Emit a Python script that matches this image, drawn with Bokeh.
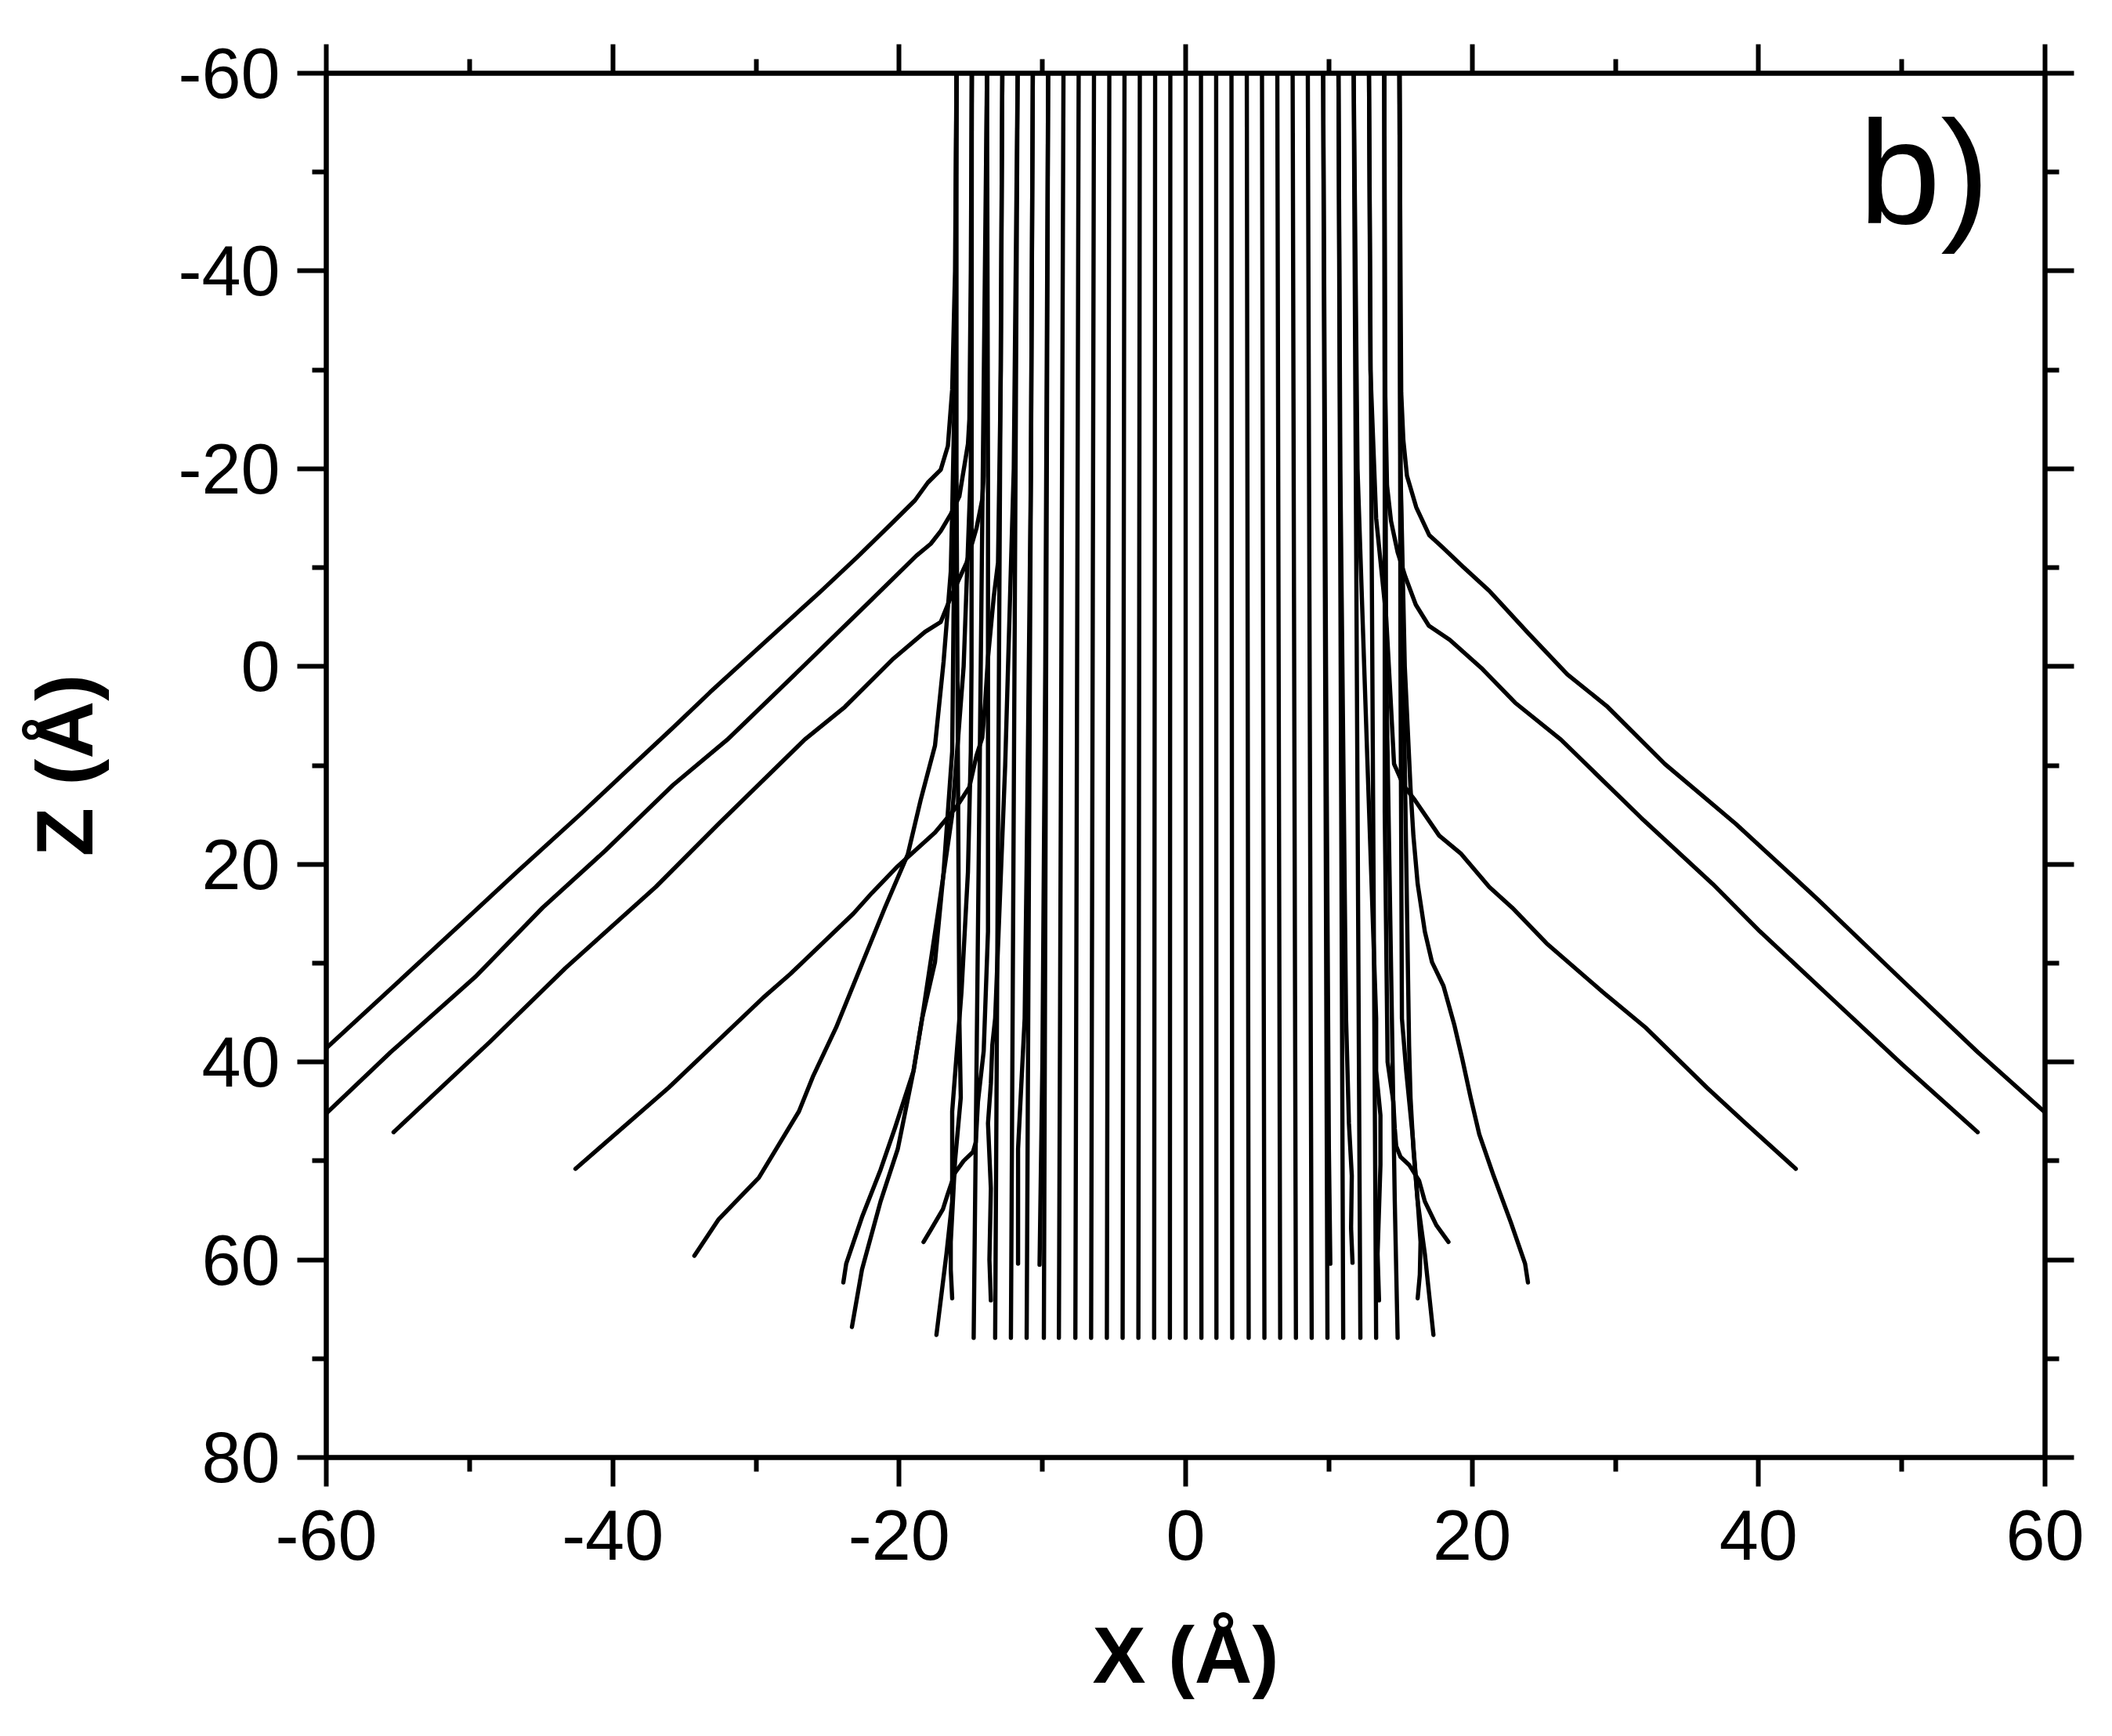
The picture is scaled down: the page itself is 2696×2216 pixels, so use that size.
from bokeh.plotting import figure
from bokeh.models import Range1d, LinearAxis, FixedTicker, Label, CustomJSTickFormatter
from bokeh.embed import file_html
from bokeh.resources import INLINE

# ---------------- data ----------------
x_ticks = [-60, -40, -20, 0, 20, 40, 60]
x_minor = [-50, -30, -10, 10, 30, 50]
z_ticks = [-60, -40, -20, 0, 20, 40, 60, 80]
z_minor = [-50, -30, -10, 10, 30, 50, 70]

z_entry = -60.0
z_exit = 67.9

# nearly straight trajectories: entry x (z=-60) -> exit x (z=67.9)
straight_x_entry = [-13.87, -12.8, -11.73, -10.67, -9.6, -8.53, -7.47, -6.4, -5.33,
                    -4.27, -3.2, -2.13, -1.07, 0.0, 1.07, 2.13, 3.2, 4.27, 5.33,
                    6.4, 7.47, 8.53, 9.6, 10.67, 11.73, 12.8]
straight_x_exit = [-14.8, -13.3, -12.2, -11.1, -9.9, -8.85, -7.7, -6.6, -5.5,
                   -4.4, -3.3, -2.2, -1.1, 0.0, 1.1, 2.15, 3.25, 4.4, 5.5,
                   6.6, 7.7, 8.8, 9.9, 11.0, 12.2, 13.3]

# deflected trajectories, (x, z) points
traj_L1 = [(-16.0, -60), (-16.1, -40), (-16.3, -28), (-16.6, -22.3), (-17.1, -19.9), (-18.0, -18.6),
           (-18.9, -16.8), (-20.5, -14.5), (-22.9, -11.1), (-25.4, -7.7), (-29.5, -2.3), (-33.2, 2.6),
           (-35.8, 6.2), (-39.2, 10.8), (-42.3, 15.0), (-46.7, 20.8), (-50.5, 25.9), (-54.6, 31.4),
           (-60.0, 38.6)]
traj_L2 = [(-14.93, -60), (-15.0, -40), (-15.1, -25), (-15.2, -22.5), (-15.8, -17.2), (-16.4, -15.4),
           (-17.1, -13.7), (-17.8, -12.4), (-18.8, -11.2), (-21.9, -6.8), (-27.0, 0.4), (-32.0, 7.4),
           (-35.8, 12.0), (-40.5, 18.6), (-44.9, 24.4), (-49.6, 31.4), (-55.5, 39.0), (-60.0, 45.2)]
traj_L3 = [(-13.87, -60), (-13.95, -40), (-14.1, -19.3), (-14.2, -16.9), (-14.6, -14.0), (-15.3, -10.5),
           (-16.4, -7.0), (-17.1, -4.5), (-18.2, -3.5), (-20.4, -0.8), (-23.8, 4.1), (-26.6, 7.4),
           (-32.6, 15.9), (-37.0, 22.3), (-43.3, 30.5), (-48.6, 38.0), (-55.3, 47.1)]
traj_L4 = [(-12.8, -60), (-12.9, -30), (-13.1, -10.5), (-13.4, -7.0), (-13.8, -0.9), (-14.0, 3.7),
           (-14.2, 7.2), (-14.6, 9.0), (-15.1, 12.2), (-16.0, 14.2), (-17.5, 16.8), (-20.1, 20.2),
           (-21.9, 22.9), (-23.2, 25.0), (-27.6, 31.1), (-29.5, 33.5), (-36.1, 42.6), (-42.6, 50.8)]
traj_L5 = [(-16.0, -60), (-16.1, -30), (-16.3, -15.6), (-16.4, -9.6), (-16.9, -0.5), (-17.5, 8.0),
           (-18.5, 13.5), (-19.4, 19.0), (-21.0, 24.4), (-22.55, 29.9), (-24.4, 36.5), (-26.0, 41.4),
           (-27.0, 45.0), (-29.8, 51.7), (-32.6, 55.9), (-34.3, 59.6)]
traj_L6 = [(-16.0, -60), (-16.1, -20), (-16.3, 8.6), (-16.9, 20.8), (-17.5, 29.9), (-18.4, 35.6),
           (-19.0, 40.9), (-20.3, 46.7), (-21.3, 50.9), (-22.6, 55.7), (-23.7, 60.4), (-23.9, 62.3)]
traj_L7 = [(-14.93, -60), (-15.0, -20), (-15.5, 0.0), (-16.3, 15.0), (-17.3, 25.0), (-18.4, 35.6),
           (-19.0, 40.9), (-20.1, 48.8), (-21.3, 54.1), (-22.6, 61.0), (-23.3, 66.8)]
traj_L8 = [(-13.87, -60), (-13.8, -20), (-13.8, 26.8), (-14.1, 38.9), (-14.5, 44.0), (-14.65, 48.1),
           (-14.85, 49.1), (-15.5, 50.0), (-16.1, 51.2), (-16.6, 53.3), (-16.95, 54.9), (-17.8, 57.0),
           (-18.3, 58.2)]
traj_L9 = [(-14.93, -60), (-14.95, 0.0), (-15.0, 8.6), (-15.2, 20.8), (-15.65, 32.9), (-16.3, 45.0),
           (-16.3, 54.1), (-16.7, 59.4), (-17.4, 67.6)]
traj_L10 = [(-16.0, -60), (-16.0, -20), (-15.9, 10.0), (-15.8, 35.6), (-15.7, 43.6), (-16.1, 50.0),
            (-16.4, 58.2), (-16.4, 61.0), (-16.3, 63.9)]
traj_L12 = [(-11.73, -60), (-12.0, -20), (-12.6, 10.0), (-13.3, 35.6), (-13.5, 38.3), (-13.6, 42.2),
            (-13.8, 46.2), (-13.6, 52.8), (-13.7, 60.0), (-13.6, 64.1)]
traj_L15 = [(-10.67, -60), (-10.8, -20), (-11.1, 20.0), (-11.24, 35.6), (-11.7, 48.8), (-11.7, 60.4)]
traj_L17 = [(-9.6, -60), (-9.8, 0.0), (-10.0, 40.0), (-10.2, 60.5)]

traj_RA = [(14.93, -60), (15.0, -40), (15.05, -27.7), (15.2, -22.9), (15.45, -19.3), (16.1, -16.1),
           (17.0, -13.3), (17.9, -12.1), (19.35, -10.1), (21.2, -7.65), (23.9, -3.4), (26.65, 0.8),
           (29.4, 4.0), (33.45, 9.85), (38.4, 15.9), (44.1, 23.5), (50.0, 31.7), (55.3, 39.0),
           (60.0, 45.1)]
traj_RB = [(13.87, -60), (13.9, -30), (14.06, -18.3), (14.34, -14.7), (14.8, -11.55), (15.34, -9.07),
           (16.07, -6.24), (16.98, -4.12), (18.44, -2.7), (20.63, 0.13), (23.0, 3.66), (26.2, 7.4),
           (31.8, 15.3), (36.8, 22.0), (40.1, 26.8), (45.05, 33.5), (50.0, 40.2), (55.3, 47.1)]
traj_RC = [(12.8, -60), (12.9, -30), (13.3, -15.0), (14.0, -5.0), (14.3, 3.0), (14.55, 9.85),
           (15.2, 12.0), (16.0, 13.5), (17.7, 17.1), (19.2, 18.9), (21.2, 22.3), (22.8, 24.4),
           (25.2, 28.0), (29.1, 32.9), (32.1, 36.5), (36.4, 42.6), (39.1, 46.2), (42.6, 50.8)]
traj_R6 = [(14.93, -60), (15.0, -20), (15.3, 0.0), (15.7, 12.3), (15.9, 17.1), (16.2, 22.0),
           (16.7, 26.8), (17.2, 29.9), (18.0, 32.3), (18.75, 36.2), (19.3, 39.6), (19.9, 43.6),
           (20.5, 47.3), (21.5, 51.5), (22.7, 56.2), (23.7, 60.4), (23.9, 62.3)]
traj_R8 = [(13.87, -60), (13.9, -20), (13.9, 14.7), (14.1, 40.0), (14.5, 44.0), (14.6, 46.7),
           (14.7, 48.5), (15.0, 49.6), (15.6, 50.4), (16.3, 52.0), (16.7, 54.1), (17.5, 56.5),
           (18.35, 58.2)]
traj_R9 = [(14.93, -60), (15.0, 0.0), (15.1, 35.6), (15.4, 40.9), (15.85, 47.5), (16.2, 54.1),
           (16.7, 59.4), (17.3, 67.6)]
traj_R10 = [(14.93, -60), (15.0, -20), (15.3, 10.0), (15.6, 38.3), (15.7, 43.6), (15.9, 48.8),
            (16.2, 54.1), (16.4, 58.2), (16.35, 61.5), (16.2, 63.9)]
traj_R11 = [(13.87, -60), (14.0, 0.0), (14.4, 35.6), (14.6, 54.0), (14.8, 67.9)]
traj_R12 = [(11.73, -60), (12.0, -20), (12.7, 10.0), (13.3, 35.6), (13.3, 40.9), (13.6, 45.4),
            (13.6, 50.4), (13.4, 59.4), (13.5, 64.1)]
traj_R15 = [(10.67, -60), (10.8, -20), (11.2, 35.6), (11.4, 46.2), (11.6, 51.5), (11.55, 56.8),
            (11.65, 60.3)]
traj_R17 = [(9.6, -60), (9.8, 0.0), (10.0, 48.8), (10.1, 60.4)]

curved = [traj_L1, traj_L2, traj_L3, traj_L4, traj_L5, traj_L6, traj_L7, traj_L8, traj_L9,
          traj_L10, traj_L12, traj_L15, traj_L17,
          traj_RA, traj_RB, traj_RC, traj_R6, traj_R8, traj_R9, traj_R10, traj_R11,
          traj_R12, traj_R15, traj_R17]

x_title = "X (Å)"
z_title = "Z (Å)"
panel_tag = "b)"

# ---------------- figure ----------------
p = figure(width=2680, height=2200,
           x_range=Range1d(-60, 60), y_range=Range1d(80, -60),
           output_backend="svg", toolbar_location=None,
           min_border_left=416, min_border_right=70, min_border_top=93, min_border_bottom=340,
           x_axis_label=x_title, y_axis_label=z_title)
p.background_fill_color = "white"
p.border_fill_color = "white"
p.xgrid.visible = False
p.ygrid.visible = False
p.outline_line_color = "black"
p.outline_line_width = 6

bottom_axis = p.below[0]
left_axis = p.left[0]

xs = [[a, b] for a, b in zip(straight_x_entry, straight_x_exit)]
ys = [[z_entry, z_exit] for _ in straight_x_entry]
for t in curved:
    xs.append([pt[0] for pt in t])
    ys.append([pt[1] for pt in t])

p.multi_line(xs, ys, line_color="black", line_width=5.4, line_join="round", line_cap="round")

top_axis = LinearAxis()
right_axis = LinearAxis()
p.add_layout(top_axis, "above")
p.add_layout(right_axis, "right")

for ax in [bottom_axis, top_axis]:
    ax.ticker = FixedTicker(ticks=x_ticks, minor_ticks=x_minor)
for ax in [left_axis, right_axis]:
    ax.ticker = FixedTicker(ticks=z_ticks, minor_ticks=z_minor)

for ax in [bottom_axis, left_axis, top_axis, right_axis]:
    ax.axis_line_width = 6
    ax.axis_line_color = "black"
    ax.major_tick_line_width = 6
    ax.minor_tick_line_width = 6
    ax.major_tick_line_color = "black"
    ax.minor_tick_line_color = "black"
    ax.major_tick_out = 37
    ax.major_tick_in = 0
    ax.minor_tick_out = 18
    ax.minor_tick_in = 0
    ax.major_label_text_font = "Liberation Sans"
    ax.major_label_text_font_size = "90px"
    ax.major_label_text_color = "black"

for ax in [bottom_axis, left_axis]:
    ax.formatter = CustomJSTickFormatter(code="return tick.toFixed(0);")
    ax.axis_label_text_font = "Liberation Sans"
    ax.axis_label_text_font_size = "102px"
    ax.axis_label_text_font_style = "bold"
    ax.axis_label_text_color = "black"

for ax in [top_axis, right_axis]:
    ax.formatter = CustomJSTickFormatter(code="return '';")
    ax.major_label_standoff = 0

bottom_axis.major_label_standoff = 30
left_axis.major_label_standoff = 22
bottom_axis.axis_label_standoff = 62
left_axis.axis_label_standoff = 84

p.add_layout(Label(x=47.0, y=-50.0, text=panel_tag, text_font="Liberation Sans",
                   text_font_size="188px", text_color="black",
                   text_align="left", text_baseline="alphabetic"))

open("out.html", "w").write(file_html(p, INLINE))
